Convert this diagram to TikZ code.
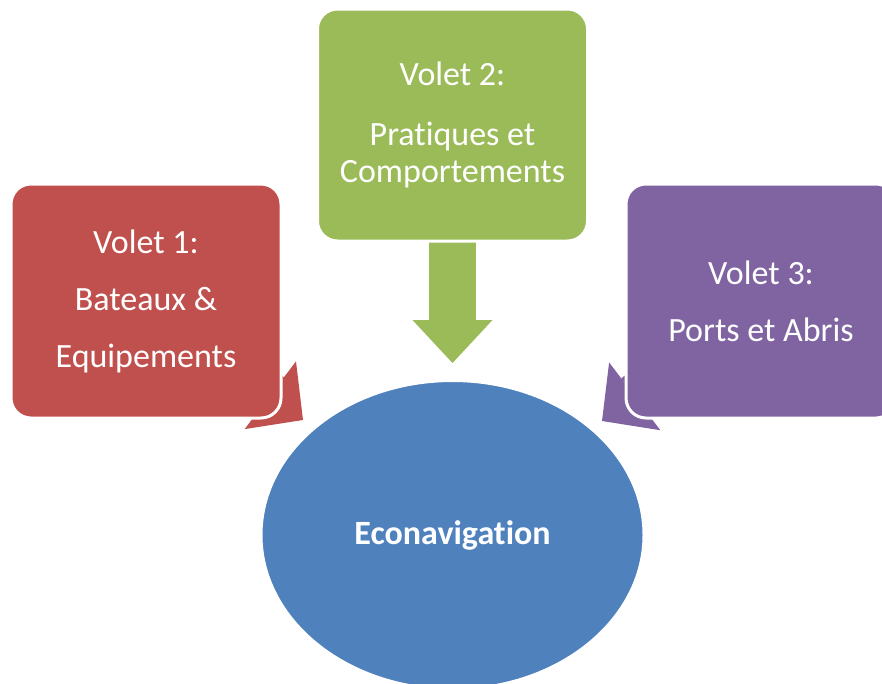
\documentclass[tikz,border=0pt]{standalone}
\usepackage{fontspec}
\setmainfont[Ligatures=NoCommon]{Carlito}
\usetikzlibrary{shapes.geometric,arrows.meta}
\definecolor{vermelho}{HTML}{C0504D}
\definecolor{verde}{HTML}{9BBB59}
\definecolor{roxo}{HTML}{8064A2}
\definecolor{azul}{HTML}{4F81BD}

\begin{document}
\begin{tikzpicture}[x=1pt, y=-1pt,
    caixa/.style={draw=white, line width=3pt, rounded corners=20pt, minimum width=270pt, minimum height=234pt, inner sep=0pt, text=white, align=center, font=\fontsize{34}{57}\selectfont},
    seta/.style={line width=45pt, -{Triangle[width=85pt, length=41pt, line width=0pt]}}]
        \useasboundingbox (0,0) rectangle (882,683);

        % Pontos
        \coordinate (c1) at (146,301);
        \coordinate (c2) at (452.5,125);
        \coordinate (c3) at (761,301);
        \coordinate (p1) at (303,420);
        \coordinate (p2) at (452.5,363);
        \coordinate (p3) at (602,421);

        % Setas
        \draw[seta, color=vermelho] (c1) -- (p1);
        \draw[seta, color=verde, line width=47pt, -{Triangle[width=80pt, length=43pt, line width=0pt]}] (c2) -- (p2);
        \draw[seta, color=roxo] (c3) -- (p3);

        % Caixas
        \node[caixa, fill=vermelho] (v1) at (c1) {Volet 1:\\Bateaux \&\\Equipements};
        \node[caixa, fill=verde, minimum height=232pt] (v2) at (c2) {Volet 2:\\[3pt]Pratiques et\\[-20pt]Comportements};
        \node[caixa, fill=roxo] (v3) at (c3) {Volet 3:\\Ports et Abris};

        % Centro
        \node[ellipse, draw=white, line width=3pt, fill=azul, minimum width=383pt, minimum height=309pt, text=white, font=\fontsize{34}{40}\selectfont\bfseries] (eco) at (452.5,535) {Econavigation};
\end{tikzpicture}
\end{document}
